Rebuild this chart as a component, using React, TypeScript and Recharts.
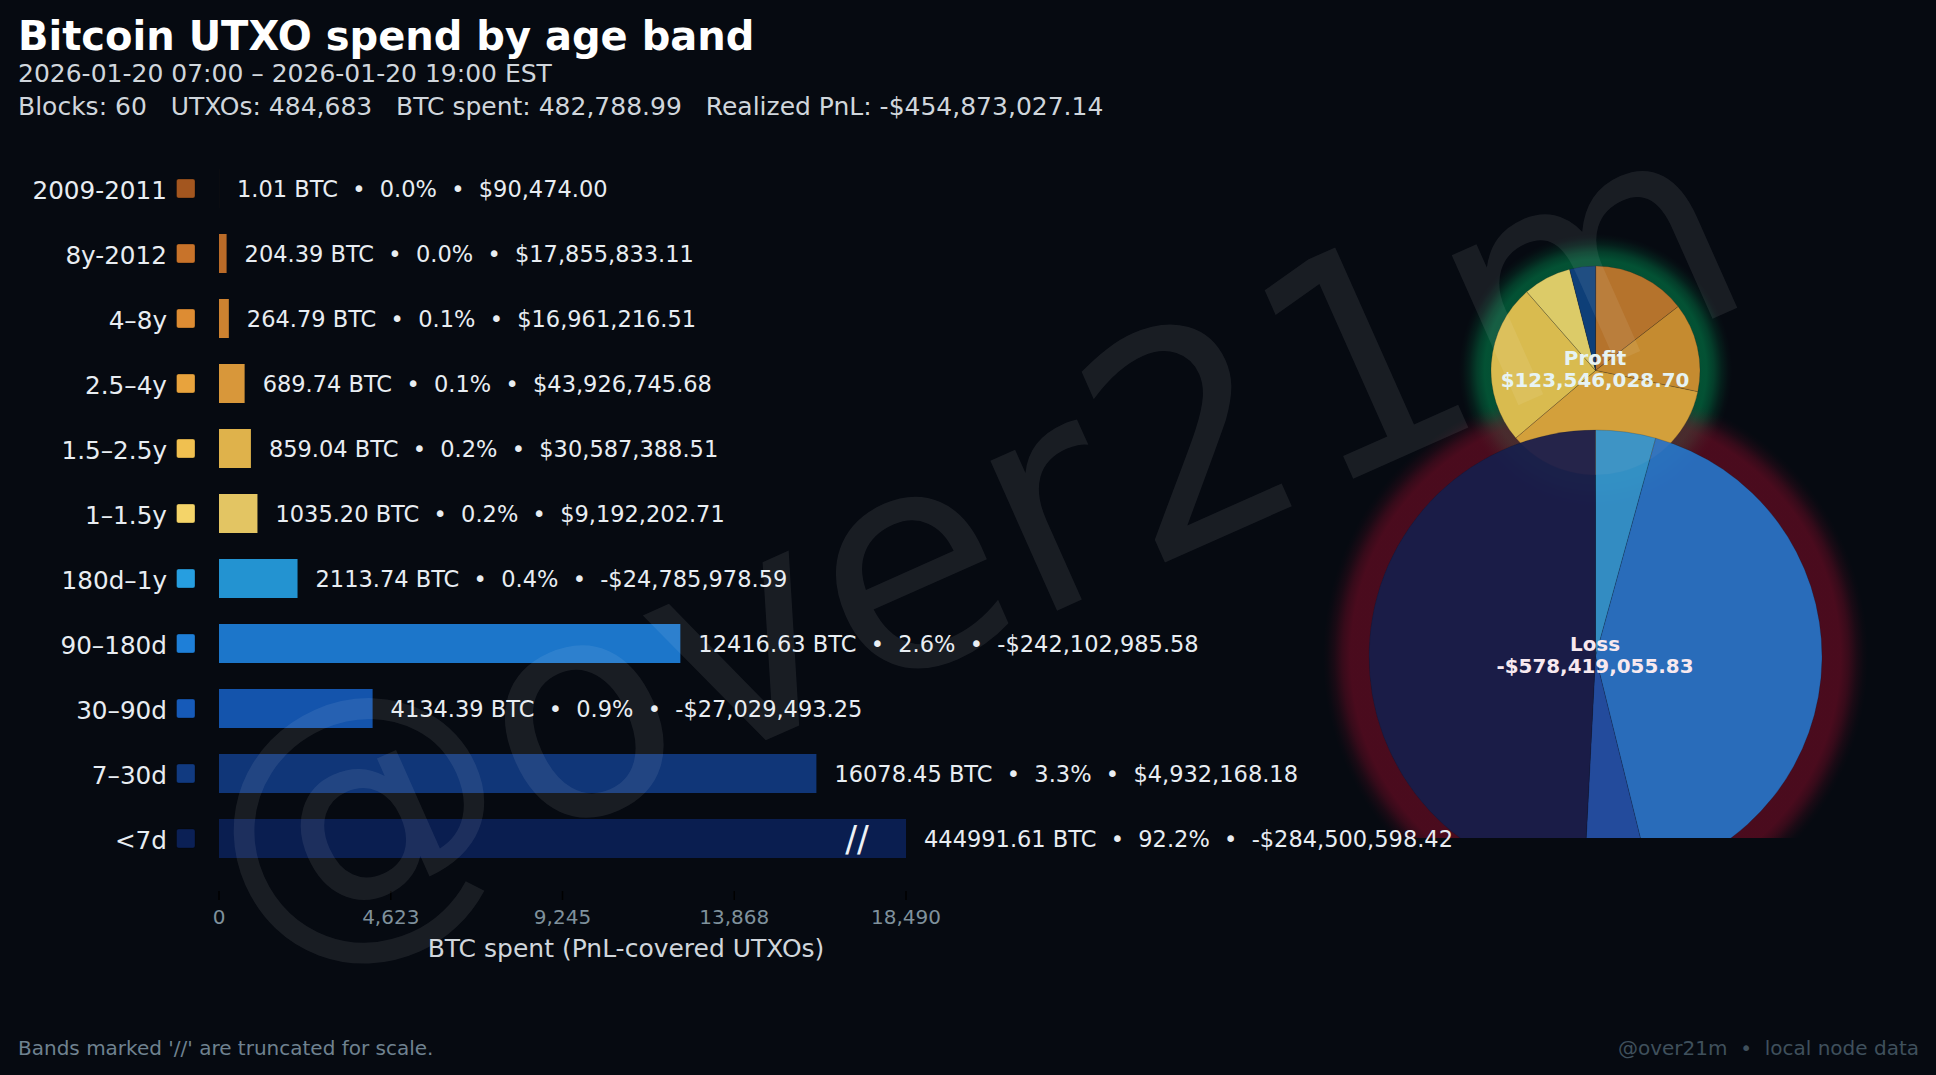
import { BarChart, Bar, Cell, XAxis, YAxis, LabelList, PieChart, Pie } from 'recharts';

const bands = ['2009-2011', '8y-2012', '4–8y', '2.5–4y', '1.5–2.5y', '1–1.5y', '180d–1y', '90–180d', '30–90d', '7–30d', '<7d'];
const btcSpent = [1.01, 204.39, 264.79, 689.74, 859.04, 1035.2, 2113.74, 12416.63, 4134.39, 16078.45, 444991.61];
const btcText = ['1.01', '204.39', '264.79', '689.74', '859.04', '1035.20', '2113.74', '12416.63', '4134.39', '16078.45', '444991.61'];
const shareText = ['0.0%', '0.0%', '0.1%', '0.1%', '0.2%', '0.2%', '0.4%', '2.6%', '0.9%', '3.3%', '92.2%'];
const pnlText = ['$90,474.00', '$17,855,833.11', '$16,961,216.51', '$43,926,745.68', '$30,587,388.51', '$9,192,202.71', '-$24,785,978.59', '-$242,102,985.58', '-$27,029,493.25', '$4,932,168.18', '-$284,500,598.42'];
const pnlValues = [90474, 17855833.11, 16961216.51, 43926745.68, 30587388.51, 9192202.71, -24785978.59, -242102985.58, -27029493.25, 4932168.18, -284500598.42];
const bandColors = ['#a3561f', '#c8732a', '#dd8c33', '#e8a33d', '#f0c050', '#f4d469', '#269ee0', '#1e7fd8', '#165ab8', '#113a80', '#0b2055'];
const pieColors = ['#a3561f', '#b5732c', '#c58b30', '#d3a03b', '#d9bb4f', '#dccb68', '#3694cc', '#2b72c4', '#254fa4', '#0e3f78', '#1b1d4b'];
const xTicks = [0, 4623, 9245, 13868, 18490];

const AXIS_MAX = 18490;
const FONT = '"DejaVu Sans", sans-serif';

const barData = bands.map((band, i) => ({
  band,
  spent: Math.min(btcSpent[i], AXIS_MAX),
  label: `${btcText[i]} BTC  •  ${shareText[i]}  •  ${pnlText[i]}`,
  truncated: btcSpent[i] > AXIS_MAX,
}));
const profitData = bands
  .map((band, i) => ({ band, value: pnlValues[i], color: pieColors[i] }))
  .filter((d) => d.value > 0);
const lossData = bands
  .map((band, i) => ({ band, value: -pnlValues[i], color: pieColors[i] }))
  .filter((d) => d.value > 0);

function BandTick({ y, payload, index }: any) {
  return (
    <g>
      <text x={167} y={y} dy={10.5} textAnchor="end" fontSize={24.7} fontFamily={FONT} fill="#e8edf2">
        {payload.value}
      </text>
      <rect x={176.5} y={y - 9.5} width={18.5} height={19} rx={2} fill={bandColors[index]} stroke="rgba(0,0,0,0.3)" />
    </g>
  );
}

function ValueLabel({ x, y, width, height, index }: any) {
  const row = barData[index];
  const end = x + width;
  const mid = y + height / 2;
  return (
    <g>
      <text x={end + 18} y={mid} dy={8} fontSize={22.5} fontFamily={FONT} fill="#e8edf2" style={{ whiteSpace: 'pre' }}>
        {row.label}
      </text>
      {row.truncated && (
        <text x={end - 49} y={mid} dy={12} textAnchor="middle" fontSize={35} fontFamily={FONT} fill="#eef2f6">
          //
        </text>
      )}
    </g>
  );
}

function PieBlock({ data, cx, cy, r, opacity }: any) {
  const size = 2 * r + 10;
  return (
    <div style={{ position: 'absolute', left: cx - size / 2, top: cy - size / 2 }}>
      <PieChart width={size} height={size} margin={{ top: 0, right: 0, bottom: 0, left: 0 }}>
        <Pie
          data={data}
          dataKey="value"
          nameKey="band"
          cx={size / 2}
          cy={size / 2}
          outerRadius={r}
          startAngle={90}
          endAngle={-270}
          stroke="rgba(10,15,25,0.18)"
          strokeWidth={1}
          fillOpacity={opacity}
          isAnimationActive={false}
        >
          {data.map((d: any) => (
            <Cell key={d.band} fill={d.color} />
          ))}
        </Pie>
      </PieChart>
    </div>
  );
}

function Glow({ cx, cy, r, spread, rgb, alpha, hold }: any) {
  const R = r + spread;
  const at = (f: number, k: number) => `rgba(${rgb},${alpha * k}) ${r + spread * f}px`;
  const fadeLen = 1 - hold;
  const stops = [
    `rgba(${rgb},0) ${r - 1}px`,
    at(0, 1),
    at(hold, 1),
    at(hold + fadeLen * 0.3, 0.72),
    at(hold + fadeLen * 0.6, 0.3),
    at(hold + fadeLen * 0.85, 0.07),
    at(1, 0),
  ].join(', ');
  return (
    <div
      style={{
        position: 'absolute',
        left: cx - R,
        top: cy - R,
        width: 2 * R,
        height: 2 * R,
        background: `radial-gradient(circle closest-side, ${stops})`,
      }}
    />
  );
}

function PieLabel({ cx, cy, title, amount, color }: any) {
  return (
    <div
      style={{
        position: 'absolute',
        left: cx - 150,
        top: cy - 22,
        width: 300,
        textAlign: 'center',
        fontFamily: FONT,
        fontWeight: 700,
        fontSize: 19.9,
        lineHeight: '22px',
        color,
      }}
    >
      <div>{title}</div>
      <div>{amount}</div>
    </div>
  );
}

const textLine = (top: number, fontSize: number, color: string, extra = {}) => ({
  position: 'absolute' as const,
  left: 18,
  top,
  fontSize,
  color,
  lineHeight: 1,
  whiteSpace: 'pre' as const,
  fontFamily: FONT,
  ...extra,
});

export default function App() {
  return (
    <div style={{ position: 'absolute', left: 0, top: 0, width: 1936, height: 1075, background: '#060a11', overflow: 'hidden' }}>
      <div style={textLine(16, 40, '#ffffff', { fontWeight: 700 })}>Bitcoin UTXO spend by age band</div>
      <div style={textLine(60.5, 25, '#d0d6dc')}>2026-01-20 07:00 – 2026-01-20 19:00 EST</div>
      <div style={textLine(93.5, 25, '#d0d6dc')}>Blocks: 60   UTXOs: 484,683   BTC spent: 482,788.99   Realized PnL: -$454,873,027.14</div>

      <div style={{ position: 'absolute', left: 0, top: 0, width: 1936, height: 838, overflow: 'hidden' }}>
        <Glow cx={1595} cy={370} r={104.5} spread={32} rgb="0,140,80" alpha={0.55} hold={0.2} />
        <Glow cx={1595} cy={656} r={226.5} spread={46} rgb="130,12,40" alpha={0.55} hold={0.4} />
        <PieBlock data={profitData} cx={1595} cy={370} r={104.5} opacity={1} />
        <PieBlock data={lossData} cx={1595} cy={656} r={226.5} opacity={0.95} />
      </div>

      <div style={{ position: 'absolute', left: 0, top: 0 }}>
        <BarChart
          width={1936}
          height={1075}
          layout="vertical"
          data={barData}
          margin={{ top: 156, right: 1030, bottom: 0, left: 0 }}
          barCategoryGap={0}
        >
          <XAxis
            type="number"
            domain={[0, AXIS_MAX]}
            ticks={xTicks}
            height={184}
            axisLine={false}
            tickSize={9}
            tickMargin={10}
            tickLine={{ stroke: '#000000', strokeWidth: 1.5 }}
            tick={{ fontSize: 20, fontFamily: FONT, fill: '#7f919c' }}
            tickFormatter={(v: number) => v.toLocaleString('en-US')}
          />
          <YAxis
            type="category"
            dataKey="band"
            width={219}
            interval={0}
            axisLine={false}
            tickLine={false}
            padding={{ top: 0, bottom: 20 }}
            tick={BandTick}
          />
          <Bar dataKey="spent" barSize={39} fillOpacity={0.93} isAnimationActive={false}>
            {barData.map((d, i) => (
              <Cell key={d.band} fill={bandColors[i]} />
            ))}
            <LabelList dataKey="label" content={ValueLabel} />
          </Bar>
        </BarChart>
      </div>
      <div style={{ ...textLine(936, 25, '#d0d6dc'), left: 626, transform: 'translateX(-50%)' }}>BTC spent (PnL-covered UTXOs)</div>

      <PieLabel cx={1595} cy={370} title="Profit" amount="$123,546,028.70" color="#e6f3f3" />
      <PieLabel cx={1595} cy={656} title="Loss" amount="-$578,419,055.83" color="#f7e9ef" />

      <div style={textLine(1038, 20, '#6f8290')}>Bands marked '//' are truncated for scale.</div>
      <div style={{ ...textLine(1038, 20, '#3f505c'), left: 'auto', right: 17 }}>@over21m  •  local node data</div>

      <svg width={1936} height={1075} style={{ position: 'absolute', left: 0, top: 0, pointerEvents: 'none' }}>
        <text
          x={968}
          y={537}
          textAnchor="middle"
          dominantBaseline="central"
          transform="rotate(-24 968 537)"
          fontSize={300}
          fontFamily={FONT}
          fill="#ffffff"
          fillOpacity={0.08}
        >
          @over21m
        </text>
      </svg>
    </div>
  );
}
